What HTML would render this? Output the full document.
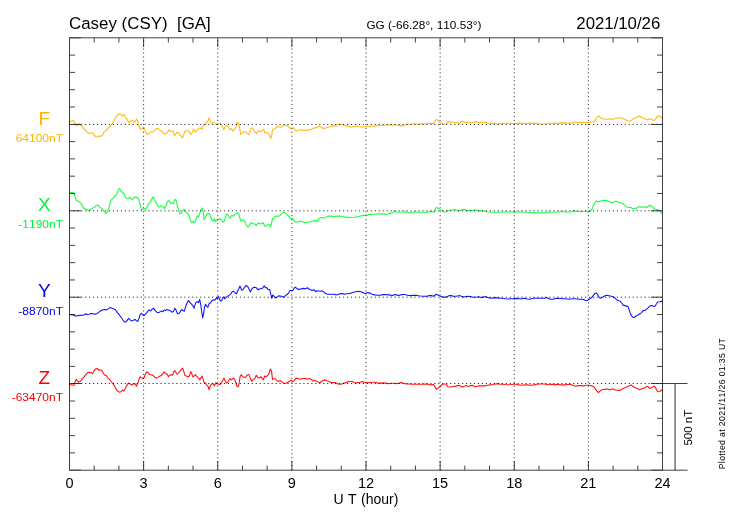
<!DOCTYPE html>
<html lang="en"><head><meta charset="utf-8"><title>Casey (CSY) [GA] 2021/10/26</title>
<style>html,body{margin:0;padding:0;background:#fff}body{width:730px;height:520px;overflow:hidden}svg{display:block}text{font-family:"Liberation Sans",Arial,Helvetica,sans-serif;font-kerning:none}</style></head><body>
<svg width="730" height="520" viewBox="0 0 730 520">
<rect width="730" height="520" fill="#fff"/>
<polyline points="69.5,122.2 71.2,121.2 73.2,120.5 74.6,121.8 76.0,125.9 77.3,124.9 79.4,123.7 81.2,125.3 83.5,128.4 86.2,131.4 88.3,133.4 90.3,133.3 92.4,132.5 93.8,134.1 95.4,136.6 97.2,137.3 99.2,135.9 100.9,136.3 102.7,135.2 104.0,132.2 106.1,130.4 108.2,128.1 110.2,126.3 112.3,123.6 114.0,120.8 115.7,117.4 117.7,114.9 119.5,113.7 121.2,114.4 122.3,115.8 124.2,114.4 125.3,116.7 127.3,120.1 128.7,122.5 130.1,121.5 131.4,120.1 133.1,120.8 134.9,122.2 136.5,119.0 137.6,120.8 139.0,125.6 140.3,129.7 142.0,128.4 143.8,127.3 145.1,130.4 146.9,134.5 148.6,133.6 150.6,131.8 152.7,132.2 154.7,130.1 156.8,128.4 158.8,129.0 160.0,130.4 161.6,131.1 164.1,134.1 165.8,133.2 167.1,132.7 168.9,129.7 170.7,131.8 173.0,130.8 174.4,135.9 175.8,133.8 177.4,131.8 179.2,133.8 180.8,135.5 182.3,137.9 183.6,135.2 184.7,131.8 186.3,130.8 188.1,130.7 189.4,131.5 190.7,134.5 192.2,132.5 193.3,129.4 194.2,130.0 195.3,132.1 197.0,130.4 199.0,128.4 200.0,127.7 201.1,128.6 202.1,129.4 203.6,124.9 204.5,124.0 205.5,124.5 206.6,122.2 207.9,121.2 208.9,117.8 210.0,119.9 211.0,122.6 212.1,123.3 214.1,122.5 215.5,124.2 217.3,124.0 218.9,123.7 220.3,123.2 221.9,125.6 223.7,129.7 225.1,127.0 226.8,125.3 228.2,126.7 229.9,129.7 231.2,128.6 233.3,131.1 234.7,129.0 236.0,127.0 237.0,122.9 238.4,122.6 239.4,126.3 240.6,134.1 241.9,133.6 243.6,131.5 245.6,131.8 247.0,133.2 248.8,134.9 250.1,131.1 251.1,128.4 252.2,127.7 253.4,129.7 255.0,131.8 256.4,133.8 257.7,131.1 259.1,130.8 260.5,131.8 262.1,130.8 263.6,129.4 264.9,132.7 266.6,132.2 268.3,133.6 269.4,134.5 270.3,138.2 271.4,137.3 272.5,129.4 273.9,129.0 275.3,128.4 276.9,127.0 278.3,126.3 280.3,127.3 281.7,127.0 283.8,125.2 285.8,125.3 287.9,126.3 289.9,127.7 291.3,128.6 293.4,127.7 294.7,129.4 296.1,131.1 298.1,130.4 300.2,129.7 302.3,130.1 305.0,130.4 307.1,130.0 309.1,130.1 311.2,129.3 313.2,128.1 315.3,128.1 317.3,127.0 319.4,126.3 321.4,127.3 323.5,128.4 325.6,128.1 327.6,127.3 330.3,126.7 333.1,125.9 335.8,125.9 337.9,124.7 339.9,124.2 342.0,124.5 344.0,125.3 346.8,125.9 349.5,126.7 350.0,127.0 352.7,127.0 355.5,126.3 358.2,126.3 361.0,127.0 362.3,127.3 364.4,126.6 366.4,126.3 370.6,126.3 374.7,126.3 377.4,125.6 380.1,125.2 384.2,125.3 388.4,124.7 391.1,124.9 393.1,125.3 395.2,124.7 397.9,125.3 400.7,125.9 404.1,125.6 406.2,124.5 410.3,124.2 413.7,123.7 417.1,124.0 419.9,124.2 422.6,123.7 426.7,124.0 430.1,123.3 433.6,123.6 434.9,121.2 436.3,119.5 438.4,120.8 440.4,122.5 442.5,123.8 444.9,124.1 446.6,123.6 448.4,121.5 450.5,121.9 453.2,122.2 456.0,122.5 458.0,122.9 458.7,123.8 460.1,122.9 461.7,121.5 463.5,121.8 464.9,122.6 466.9,122.3 469.0,122.2 471.0,122.5 473.1,122.5 475.1,121.4 476.8,121.8 478.6,122.6 481.3,122.3 484.0,122.3 486.1,122.6 488.8,123.3 491.6,123.0 494.3,123.6 497.1,124.2 499.8,123.6 502.5,123.6 505.3,123.3 508.0,123.0 510.8,123.3 513.5,123.6 516.2,123.6 519.7,122.9 522.4,123.2 525.1,123.6 527.9,123.4 530.6,122.9 533.4,123.4 536.1,123.4 538.8,124.0 540.0,124.0 545.5,124.0 548.2,123.3 552.3,123.3 555.8,122.9 557.8,123.6 560.5,122.9 564.0,122.6 567.4,123.2 570.8,123.4 573.6,122.2 575.9,121.8 578.4,122.5 582.5,122.3 586.6,122.6 590.7,122.3 593.4,121.8 594.8,120.8 596.2,118.5 597.5,116.7 598.9,116.0 600.3,117.7 602.3,118.8 605.1,119.0 607.8,119.5 609.9,118.8 612.6,119.5 615.3,118.5 618.1,117.8 620.8,117.7 622.9,118.8 625.6,119.9 628.4,121.0 630.4,121.0 632.0,120.1 633.4,118.5 635.2,118.1 637.3,117.1 639.7,116.0 641.8,117.8 643.8,118.2 645.9,119.2 647.5,120.1 649.0,119.0 650.4,118.8 652.0,119.9 654.1,120.4 655.5,119.5 656.9,116.7 658.2,115.8 659.6,116.0 661.0,117.4 662.6,117.8" fill="none" stroke="#ffb400" stroke-width="1.1" stroke-linejoin="round" opacity="0.92"/>
<polyline points="69.5,192.8 71.2,192.4 72.8,192.4 74.2,193.5 75.3,197.6 76.2,200.3 77.6,201.3 79.1,201.3 80.8,203.1 82.4,206.2 84.2,208.6 85.8,209.0 87.6,209.9 89.4,210.6 91.0,209.2 92.7,207.9 94.5,207.3 95.8,205.8 97.2,205.1 98.6,205.8 100.3,207.6 102.0,208.6 103.4,210.6 104.7,212.0 105.8,213.4 107.2,212.3 108.6,209.2 109.5,205.1 110.6,201.0 111.6,199.7 113.2,198.3 114.6,196.2 116.0,195.3 117.0,193.5 118.2,190.8 119.4,188.4 120.5,190.1 121.8,192.1 123.2,192.8 124.3,194.2 125.3,196.9 126.6,198.3 128.3,198.6 130.1,197.3 131.2,198.6 132.1,199.9 133.5,198.3 134.6,196.9 136.0,197.6 137.3,197.3 138.7,199.4 139.7,202.4 140.6,206.8 141.7,209.9 143.1,209.2 144.4,208.6 145.8,209.0 147.2,206.5 148.8,203.5 150.2,202.4 151.6,199.4 152.9,196.9 154.3,199.0 155.7,201.7 157.1,204.4 158.2,206.5 159.8,206.9 161.4,205.8 162.7,206.2 164.4,208.6 165.8,205.8 167.1,202.4 168.5,200.3 169.6,201.7 170.7,203.8 172.1,202.8 173.4,203.4 174.4,200.6 175.3,199.4 176.4,201.0 177.4,205.8 178.5,209.9 179.9,213.6 181.2,213.1 182.6,211.3 184.0,209.2 185.3,211.3 187.0,213.1 188.4,214.7 189.4,216.8 190.4,220.2 191.8,222.7 192.9,221.3 194.2,222.9 195.3,221.6 196.3,218.2 197.3,215.8 198.4,216.8 199.7,213.4 200.7,210.3 202.2,207.9 203.2,212.0 204.1,219.5 205.2,217.5 206.6,214.7 208.2,213.4 209.6,214.0 210.7,217.5 212.1,220.2 213.4,220.9 214.5,219.1 215.5,221.6 216.8,219.9 218.2,219.5 220.0,218.6 221.6,219.9 223.3,222.3 224.4,220.9 225.5,216.8 226.8,214.0 228.1,215.0 229.2,216.8 230.1,218.2 231.5,215.4 232.9,216.1 234.7,214.7 236.4,213.4 238.1,212.7 239.2,215.4 240.6,220.9 241.9,220.2 243.3,219.9 244.7,221.6 246.0,224.3 247.4,226.8 248.8,226.4 250.1,223.6 251.5,222.3 252.9,223.6 254.5,224.0 255.0,224.0 256.4,225.7 258.0,222.9 259.8,223.9 261.6,223.6 263.2,222.7 264.6,226.0 266.2,226.0 268.0,224.0 269.4,224.6 270.5,226.8 271.4,224.3 272.4,218.6 273.5,218.8 274.9,216.8 276.9,216.1 279.0,216.1 280.3,215.4 281.7,213.4 283.5,212.3 285.1,213.1 286.8,214.4 288.6,216.1 290.2,218.2 291.6,219.1 293.1,218.6 294.4,220.9 295.7,222.5 297.5,221.8 299.1,221.6 300.9,220.9 302.7,221.6 304.3,222.7 306.4,222.3 308.4,222.3 310.5,221.8 312.5,220.9 314.6,220.9 316.6,220.6 317.7,221.3 319.0,218.6 320.5,217.5 322.1,217.5 323.8,218.2 325.6,217.2 327.6,216.4 329.7,216.1 331.7,216.1 333.8,216.8 335.8,216.2 337.9,216.1 339.9,216.1 342.0,216.4 344.0,217.2 346.1,216.8 348.1,217.7 349.9,217.5 354.1,217.2 358.2,216.5 362.3,215.6 366.4,215.1 370.6,214.4 374.7,214.2 378.8,213.8 382.9,213.9 386.3,214.4 389.0,213.4 391.8,213.1 393.8,211.7 395.2,210.9 396.6,212.0 399.3,212.3 402.1,212.0 405.5,211.7 407.5,212.3 410.3,212.7 413.0,212.3 415.1,211.7 417.1,212.3 419.9,212.3 424.0,212.3 428.1,212.3 430.8,211.3 432.9,211.7 434.2,212.3 435.2,209.2 436.3,207.5 437.9,208.3 439.7,209.2 441.8,210.6 443.8,211.7 444.9,212.1 446.4,211.7 447.7,210.3 450.5,210.3 453.2,209.7 456.0,209.7 458.7,211.0 460.8,210.3 462.1,209.5 464.9,209.5 466.9,210.9 469.7,210.3 472.4,210.6 475.1,209.7 477.9,210.6 480.6,210.9 484.0,210.9 486.8,211.7 490.2,212.0 494.3,212.3 498.4,212.3 502.5,212.0 506.6,212.0 510.8,212.0 514.9,212.0 519.0,212.0 523.1,212.0 527.2,212.3 531.3,212.7 535.4,212.9 539.5,212.7 540.0,212.8 544.1,212.7 548.2,212.0 552.3,212.3 556.4,212.0 560.5,211.7 564.7,211.7 567.4,212.3 570.1,212.0 573.6,210.9 577.0,211.3 581.1,211.7 585.2,211.3 588.6,211.3 590.7,210.9 592.0,209.2 593.4,205.8 594.8,202.8 596.2,201.0 598.2,201.7 600.3,201.3 602.3,200.5 604.4,200.2 606.4,200.5 608.5,201.3 610.5,202.1 612.6,203.1 614.2,201.7 616.0,201.3 618.1,202.1 620.8,202.7 622.9,203.8 624.9,205.4 627.0,207.2 629.0,207.5 630.4,207.2 632.5,208.6 634.5,208.3 636.6,208.2 638.0,207.2 639.7,206.5 641.1,207.2 643.1,207.2 644.9,206.8 646.6,207.5 648.6,205.8 650.4,205.4 652.0,206.2 653.7,208.2 655.5,209.2 657.3,209.5 658.9,210.2 660.3,211.7 661.6,213.1 662.6,214.0" fill="none" stroke="#00ff33" stroke-width="1.1" stroke-linejoin="round" opacity="0.92"/>
<polyline points="69.5,314.7 71.2,314.5 73.2,315.0 75.3,316.1 77.3,315.7 80.1,315.4 82.8,315.1 84.5,314.7 85.8,313.8 87.2,314.6 89.0,314.3 91.0,313.6 93.1,313.8 95.1,314.1 96.8,313.8 98.6,312.4 100.6,310.9 102.7,309.7 104.7,309.5 106.8,309.9 108.6,308.6 110.2,307.5 112.3,308.3 114.0,308.9 115.7,310.2 117.3,312.4 119.1,314.7 121.2,317.5 122.8,319.8 124.6,322.0 126.2,321.6 127.6,319.8 128.7,318.4 130.1,319.8 131.4,320.9 133.5,320.2 135.1,319.3 136.5,320.9 137.9,321.2 139.0,318.4 140.1,314.7 141.3,313.4 142.7,314.7 144.2,315.4 145.8,313.8 147.5,311.6 149.2,309.9 150.6,311.0 152.0,309.3 153.6,308.3 155.0,310.2 156.5,312.0 158.2,312.7 159.8,312.0 161.6,310.9 163.0,311.6 164.4,309.9 165.5,310.6 167.1,309.5 168.9,310.2 170.7,310.9 172.1,312.3 173.4,311.6 174.8,308.3 176.0,309.9 177.4,313.8 178.8,313.8 180.3,311.6 181.6,309.5 182.9,310.6 184.2,311.3 185.3,307.9 186.7,303.8 188.4,300.4 189.9,302.4 191.5,304.2 192.9,305.8 194.0,308.3 194.9,305.1 195.9,302.4 197.3,301.7 198.6,302.7 199.7,299.4 200.7,304.5 201.8,312.0 202.7,317.9 203.6,314.1 204.5,307.2 205.6,304.2 206.8,306.5 207.9,307.2 209.0,303.8 210.4,302.8 211.8,301.0 213.2,299.7 214.8,300.1 216.2,298.3 217.3,298.7 218.2,296.2 219.2,298.3 220.3,301.0 221.6,300.8 222.7,297.9 223.7,296.9 224.7,298.7 225.8,297.9 227.4,296.2 229.2,295.1 230.6,294.2 231.9,291.9 233.3,291.2 234.7,292.4 236.3,293.8 237.7,291.0 238.8,288.7 239.9,286.0 240.8,288.0 241.8,290.4 243.2,289.4 244.5,287.3 246.0,285.6 247.7,286.4 249.0,289.1 250.4,291.9 251.8,289.1 253.2,287.6 254.8,287.3 256.4,287.8 258.0,289.8 259.8,288.7 261.6,288.7 262.9,287.8 264.2,285.7 265.3,287.8 266.6,287.6 268.0,289.4 269.8,289.8 270.8,294.2 271.7,298.3 272.8,294.9 273.9,296.2 275.3,298.0 276.9,297.2 278.6,295.8 280.3,296.0 282.0,296.5 283.8,297.2 285.4,295.6 287.2,294.5 288.8,292.8 290.2,290.5 291.7,290.5 293.1,290.1 294.3,288.0 295.4,287.1 296.5,288.3 297.9,289.4 299.5,289.1 301.6,288.9 303.6,288.4 305.7,288.7 307.3,287.8 309.1,289.0 310.9,290.1 312.5,290.4 314.2,289.8 315.6,291.7 316.9,290.8 318.7,291.0 320.5,291.2 322.1,290.8 323.8,292.1 325.6,293.5 327.3,294.2 329.7,294.2 331.7,294.3 333.8,294.3 336.5,294.9 338.6,294.2 340.6,293.6 342.7,293.6 344.7,294.2 346.8,293.8 348.8,293.5 349.9,293.5 352.7,292.6 355.5,291.7 358.2,291.2 361.0,291.7 363.7,293.1 365.8,293.5 367.8,292.6 369.9,293.1 371.9,294.2 374.7,294.9 377.4,295.3 380.1,295.3 382.9,294.6 385.6,294.5 388.4,294.9 390.4,294.9 391.8,295.7 393.8,294.9 395.2,294.5 397.3,295.1 398.6,295.6 400.7,294.9 402.7,294.5 404.8,294.5 407.5,295.3 410.3,295.6 413.0,295.4 415.8,295.3 418.5,295.7 421.2,296.0 424.0,296.2 426.7,296.2 429.4,295.6 431.5,295.6 433.6,296.2 434.9,295.3 436.3,294.2 438.4,295.3 440.4,296.2 442.5,297.1 444.9,297.1 447.1,296.9 449.1,295.6 451.2,295.6 453.2,296.2 456.0,296.2 458.7,295.8 460.1,295.6 462.1,296.9 464.9,296.7 467.6,296.2 470.3,296.5 473.1,297.2 475.8,297.2 478.6,296.7 481.3,297.6 484.0,296.9 486.1,296.7 488.8,297.9 491.6,298.3 494.3,297.6 497.1,297.9 499.8,298.3 502.5,298.3 505.3,298.7 508.0,299.0 510.8,298.7 513.5,298.7 516.2,298.4 519.0,298.7 521.7,298.7 524.5,298.3 527.2,299.0 529.9,299.3 532.7,298.3 535.4,298.3 539.5,298.3 540.0,298.3 544.1,298.2 546.2,297.6 548.2,298.3 550.3,299.3 553.0,299.3 555.8,298.4 558.5,298.2 561.9,298.7 565.3,298.7 568.8,299.3 572.2,298.7 575.6,298.7 579.0,299.3 582.5,299.3 584.5,299.9 586.6,300.8 588.2,299.9 590.0,298.7 592.0,297.3 593.7,294.9 595.1,293.2 596.4,293.0 597.8,294.9 599.2,297.3 600.3,298.3 601.9,297.6 603.7,296.5 605.5,295.6 607.1,295.3 609.2,295.8 611.2,296.2 613.3,296.7 615.3,298.3 617.0,299.9 618.8,300.8 620.1,301.0 621.5,302.8 623.1,305.1 624.9,305.6 626.6,306.1 628.0,306.5 629.0,309.3 630.1,312.7 631.4,315.7 632.7,317.1 634.2,317.5 635.9,316.1 638.0,315.0 640.0,313.8 641.8,312.3 643.1,310.6 645.2,310.2 647.3,308.6 649.0,306.9 650.7,305.6 652.3,305.6 653.7,306.5 654.8,306.5 656.2,304.2 657.8,302.0 659.6,301.7 661.0,301.4 662.6,301.0" fill="none" stroke="#0000ff" stroke-width="1.1" stroke-linejoin="round" opacity="0.92"/>
<polyline points="69.5,384.0 71.2,384.7 72.8,385.3 74.2,384.9 75.3,381.2 76.2,379.4 77.6,381.2 79.1,382.2 80.8,380.8 82.4,378.4 84.2,376.7 85.8,374.7 87.6,372.6 89.4,372.2 91.0,372.6 92.8,373.6 94.2,370.6 95.8,368.8 97.2,368.5 98.8,370.1 100.3,369.9 102.0,370.6 103.4,373.3 104.7,375.1 106.1,375.3 107.7,377.8 109.5,379.4 111.2,381.8 113.0,383.6 114.3,385.6 115.7,388.4 117.3,390.7 119.1,392.2 120.9,391.8 122.5,390.1 123.9,391.1 125.3,388.4 126.6,385.6 128.3,383.1 130.1,384.0 131.7,384.9 133.5,384.0 135.1,383.6 136.5,386.3 137.9,382.9 139.0,379.4 140.1,376.7 141.4,377.8 142.8,378.5 144.0,378.1 145.1,374.7 146.5,371.9 147.9,372.3 149.2,374.2 150.9,374.7 152.7,375.1 154.7,377.0 156.5,378.1 158.2,377.1 159.8,376.2 161.4,375.3 162.7,373.6 164.1,371.9 165.5,373.6 167.1,374.0 168.5,376.7 169.9,375.1 171.2,374.7 172.7,375.1 173.7,371.9 174.7,370.6 175.8,372.2 177.1,374.2 178.8,372.6 180.3,370.8 181.5,369.2 182.6,368.1 183.7,371.2 184.9,375.3 186.3,376.0 187.8,376.7 189.2,376.4 190.1,373.3 190.8,371.6 191.9,374.0 192.9,377.1 194.2,375.8 195.3,374.7 196.7,376.4 198.4,377.8 199.7,379.9 200.8,378.1 202.1,376.0 203.2,379.4 204.1,382.6 205.5,382.9 206.8,385.2 207.9,385.9 209.0,389.7 210.3,385.9 211.4,384.2 212.5,383.6 213.7,384.5 214.5,385.9 215.8,382.6 216.8,383.6 218.2,384.0 219.9,384.5 221.4,382.9 222.7,380.4 224.0,378.1 225.1,380.8 226.4,382.9 227.8,382.2 228.9,380.1 230.1,378.5 231.2,379.9 232.3,379.0 233.7,378.1 235.1,380.4 236.0,382.9 237.0,386.3 238.1,386.7 239.2,382.9 240.1,376.7 241.2,374.7 242.5,376.3 243.8,377.4 245.6,377.1 247.0,375.3 248.4,374.4 249.4,375.3 250.4,378.8 251.8,381.5 253.2,379.4 254.5,378.5 255.0,378.1 256.4,375.3 257.7,377.4 259.1,378.1 260.8,376.7 262.1,378.1 263.5,379.9 264.6,376.0 266.0,376.7 267.3,375.8 268.7,374.4 269.7,370.6 270.8,369.2 271.7,372.6 272.5,379.4 273.9,378.8 275.3,378.8 276.6,380.4 278.3,381.5 280.3,380.4 282.0,381.8 283.8,383.3 285.8,383.3 287.9,382.2 289.5,381.2 290.9,380.1 292.0,380.8 293.4,381.5 294.7,379.9 296.1,378.1 297.7,378.4 299.5,379.2 301.6,378.8 303.6,378.5 305.7,378.4 307.3,379.2 309.1,378.5 311.2,379.2 313.2,381.1 314.9,380.1 316.4,381.5 318.0,381.9 319.7,382.9 321.4,381.5 323.1,380.4 324.9,379.9 326.9,380.8 329.0,381.5 331.0,382.5 333.1,382.5 335.1,382.6 337.2,383.6 339.2,384.2 341.3,384.2 343.4,383.3 345.4,382.9 347.5,381.9 349.9,381.5 352.1,381.5 354.1,382.5 356.2,382.9 358.2,382.5 360.3,382.2 362.3,381.5 364.4,382.2 366.4,382.9 369.2,382.5 371.9,382.2 374.7,382.2 377.4,382.9 380.1,383.1 382.9,382.9 385.6,383.1 388.4,383.8 391.1,383.3 393.8,383.3 396.6,383.6 399.3,383.1 401.4,382.6 403.4,383.3 406.2,384.0 408.9,384.0 411.6,384.2 414.4,384.2 417.1,384.2 419.9,384.2 422.6,384.2 425.3,384.0 428.1,384.2 430.8,384.9 433.6,384.5 434.9,386.7 436.3,389.3 438.4,387.9 440.4,386.3 442.1,384.7 443.8,384.0 444.9,384.0 446.4,384.2 447.7,386.7 449.8,387.0 451.9,386.7 454.6,386.4 456.6,385.9 458.7,385.3 460.8,386.0 462.4,387.3 464.2,386.3 466.2,385.6 468.3,386.4 470.3,385.6 472.4,385.3 473.8,385.9 475.1,387.0 477.2,386.3 479.2,385.9 482.0,385.9 484.7,385.9 487.5,385.3 490.2,384.9 492.9,384.5 495.7,384.0 497.7,383.6 499.8,384.2 502.5,384.2 505.3,384.5 508.0,384.7 510.8,384.5 513.5,384.2 516.2,384.2 519.0,384.9 521.7,385.2 524.5,384.7 527.2,384.9 530.6,385.3 534.0,384.9 536.8,384.2 539.5,384.0 540.0,384.0 544.1,384.0 548.2,384.7 552.3,384.2 555.1,384.9 557.8,384.2 560.5,384.9 564.7,384.9 567.4,384.5 570.1,384.2 572.9,385.3 575.6,386.3 578.4,385.6 581.1,385.6 583.8,385.9 586.6,385.2 589.3,385.3 592.0,385.9 594.1,387.0 595.5,389.0 596.9,391.1 598.5,392.5 599.9,391.1 601.6,389.7 604.4,389.4 607.1,389.0 609.9,389.7 612.6,388.8 615.3,390.0 618.1,390.4 620.8,390.1 622.9,388.4 624.9,387.7 627.0,386.7 629.0,385.9 631.1,384.9 632.9,386.3 635.2,387.7 637.3,388.6 639.7,389.7 641.8,388.8 643.6,388.1 645.2,387.7 646.6,386.3 648.0,386.7 649.6,388.4 651.4,387.7 653.0,386.6 654.5,386.3 655.8,388.1 656.9,390.7 658.2,391.8 659.9,391.5 661.2,390.4 662.6,390.1" fill="none" stroke="#ff0000" stroke-width="1.1" stroke-linejoin="round" opacity="0.92"/>
<g stroke="#000" stroke-width="1" fill="none">
<line x1="143.62" y1="470.2" x2="143.62" y2="37.8" stroke-dasharray="1.15 2.818" opacity="0.78"/>
<line x1="217.75" y1="470.2" x2="217.75" y2="37.8" stroke-dasharray="1.15 2.818" opacity="0.78"/>
<line x1="291.88" y1="470.2" x2="291.88" y2="37.8" stroke-dasharray="1.15 2.818" opacity="0.78"/>
<line x1="366.00" y1="470.2" x2="366.00" y2="37.8" stroke-dasharray="1.15 2.818" opacity="0.78"/>
<line x1="440.12" y1="470.2" x2="440.12" y2="37.8" stroke-dasharray="1.15 2.818" opacity="0.78"/>
<line x1="514.25" y1="470.2" x2="514.25" y2="37.8" stroke-dasharray="1.15 2.818" opacity="0.78"/>
<line x1="588.38" y1="470.2" x2="588.38" y2="37.8" stroke-dasharray="1.15 2.818" opacity="0.78"/>
<line x1="69.2" y1="124.45" x2="662.5" y2="124.45" stroke-dasharray="1.2 2.768" opacity="0.8"/>
<line x1="69.2" y1="210.80" x2="662.5" y2="210.80" stroke-dasharray="1.2 2.768" opacity="0.8"/>
<line x1="69.2" y1="297.20" x2="662.5" y2="297.20" stroke-dasharray="1.2 2.768" opacity="0.8"/>
<line x1="69.2" y1="383.50" x2="662.5" y2="383.50" stroke-dasharray="1.2 2.768" opacity="0.8"/>
</g>
<g stroke="#000" stroke-width="1" fill="none" opacity="0.74">
<rect x="69.5" y="37.8" width="593.0" height="432.4"/>
<line x1="69.50" y1="37.8" x2="69.50" y2="47.0"/>
<line x1="69.50" y1="470.2" x2="69.50" y2="461.0"/>
<line x1="94.21" y1="37.8" x2="94.21" y2="42.5"/>
<line x1="94.21" y1="470.2" x2="94.21" y2="465.5"/>
<line x1="118.92" y1="37.8" x2="118.92" y2="42.5"/>
<line x1="118.92" y1="470.2" x2="118.92" y2="465.5"/>
<line x1="143.62" y1="37.8" x2="143.62" y2="47.0"/>
<line x1="143.62" y1="470.2" x2="143.62" y2="461.0"/>
<line x1="168.33" y1="37.8" x2="168.33" y2="42.5"/>
<line x1="168.33" y1="470.2" x2="168.33" y2="465.5"/>
<line x1="193.04" y1="37.8" x2="193.04" y2="42.5"/>
<line x1="193.04" y1="470.2" x2="193.04" y2="465.5"/>
<line x1="217.75" y1="37.8" x2="217.75" y2="47.0"/>
<line x1="217.75" y1="470.2" x2="217.75" y2="461.0"/>
<line x1="242.46" y1="37.8" x2="242.46" y2="42.5"/>
<line x1="242.46" y1="470.2" x2="242.46" y2="465.5"/>
<line x1="267.17" y1="37.8" x2="267.17" y2="42.5"/>
<line x1="267.17" y1="470.2" x2="267.17" y2="465.5"/>
<line x1="291.88" y1="37.8" x2="291.88" y2="47.0"/>
<line x1="291.88" y1="470.2" x2="291.88" y2="461.0"/>
<line x1="316.58" y1="37.8" x2="316.58" y2="42.5"/>
<line x1="316.58" y1="470.2" x2="316.58" y2="465.5"/>
<line x1="341.29" y1="37.8" x2="341.29" y2="42.5"/>
<line x1="341.29" y1="470.2" x2="341.29" y2="465.5"/>
<line x1="366.00" y1="37.8" x2="366.00" y2="47.0"/>
<line x1="366.00" y1="470.2" x2="366.00" y2="461.0"/>
<line x1="390.71" y1="37.8" x2="390.71" y2="42.5"/>
<line x1="390.71" y1="470.2" x2="390.71" y2="465.5"/>
<line x1="415.42" y1="37.8" x2="415.42" y2="42.5"/>
<line x1="415.42" y1="470.2" x2="415.42" y2="465.5"/>
<line x1="440.12" y1="37.8" x2="440.12" y2="47.0"/>
<line x1="440.12" y1="470.2" x2="440.12" y2="461.0"/>
<line x1="464.83" y1="37.8" x2="464.83" y2="42.5"/>
<line x1="464.83" y1="470.2" x2="464.83" y2="465.5"/>
<line x1="489.54" y1="37.8" x2="489.54" y2="42.5"/>
<line x1="489.54" y1="470.2" x2="489.54" y2="465.5"/>
<line x1="514.25" y1="37.8" x2="514.25" y2="47.0"/>
<line x1="514.25" y1="470.2" x2="514.25" y2="461.0"/>
<line x1="538.96" y1="37.8" x2="538.96" y2="42.5"/>
<line x1="538.96" y1="470.2" x2="538.96" y2="465.5"/>
<line x1="563.67" y1="37.8" x2="563.67" y2="42.5"/>
<line x1="563.67" y1="470.2" x2="563.67" y2="465.5"/>
<line x1="588.38" y1="37.8" x2="588.38" y2="47.0"/>
<line x1="588.38" y1="470.2" x2="588.38" y2="461.0"/>
<line x1="613.08" y1="37.8" x2="613.08" y2="42.5"/>
<line x1="613.08" y1="470.2" x2="613.08" y2="465.5"/>
<line x1="637.79" y1="37.8" x2="637.79" y2="42.5"/>
<line x1="637.79" y1="470.2" x2="637.79" y2="465.5"/>
<line x1="662.50" y1="37.8" x2="662.50" y2="47.0"/>
<line x1="662.50" y1="470.2" x2="662.50" y2="461.0"/>
<line x1="69.5" y1="37.80" x2="81.0" y2="37.80"/>
<line x1="662.5" y1="37.80" x2="651.0" y2="37.80"/>
<line x1="69.5" y1="55.10" x2="75.0" y2="55.10"/>
<line x1="662.5" y1="55.10" x2="657.0" y2="55.10"/>
<line x1="69.5" y1="72.39" x2="75.0" y2="72.39"/>
<line x1="662.5" y1="72.39" x2="657.0" y2="72.39"/>
<line x1="69.5" y1="89.69" x2="75.0" y2="89.69"/>
<line x1="662.5" y1="89.69" x2="657.0" y2="89.69"/>
<line x1="69.5" y1="106.98" x2="75.0" y2="106.98"/>
<line x1="662.5" y1="106.98" x2="657.0" y2="106.98"/>
<line x1="69.5" y1="124.45" x2="81.0" y2="124.45"/>
<line x1="662.5" y1="124.45" x2="651.0" y2="124.45"/>
<line x1="69.5" y1="141.58" x2="75.0" y2="141.58"/>
<line x1="662.5" y1="141.58" x2="657.0" y2="141.58"/>
<line x1="69.5" y1="158.87" x2="75.0" y2="158.87"/>
<line x1="662.5" y1="158.87" x2="657.0" y2="158.87"/>
<line x1="69.5" y1="176.17" x2="75.0" y2="176.17"/>
<line x1="662.5" y1="176.17" x2="657.0" y2="176.17"/>
<line x1="69.5" y1="193.46" x2="75.0" y2="193.46"/>
<line x1="662.5" y1="193.46" x2="657.0" y2="193.46"/>
<line x1="69.5" y1="210.80" x2="81.0" y2="210.80"/>
<line x1="662.5" y1="210.80" x2="651.0" y2="210.80"/>
<line x1="69.5" y1="228.06" x2="75.0" y2="228.06"/>
<line x1="662.5" y1="228.06" x2="657.0" y2="228.06"/>
<line x1="69.5" y1="245.35" x2="75.0" y2="245.35"/>
<line x1="662.5" y1="245.35" x2="657.0" y2="245.35"/>
<line x1="69.5" y1="262.65" x2="75.0" y2="262.65"/>
<line x1="662.5" y1="262.65" x2="657.0" y2="262.65"/>
<line x1="69.5" y1="279.94" x2="75.0" y2="279.94"/>
<line x1="662.5" y1="279.94" x2="657.0" y2="279.94"/>
<line x1="69.5" y1="297.20" x2="81.0" y2="297.20"/>
<line x1="662.5" y1="297.20" x2="651.0" y2="297.20"/>
<line x1="69.5" y1="314.54" x2="75.0" y2="314.54"/>
<line x1="662.5" y1="314.54" x2="657.0" y2="314.54"/>
<line x1="69.5" y1="331.83" x2="75.0" y2="331.83"/>
<line x1="662.5" y1="331.83" x2="657.0" y2="331.83"/>
<line x1="69.5" y1="349.13" x2="75.0" y2="349.13"/>
<line x1="662.5" y1="349.13" x2="657.0" y2="349.13"/>
<line x1="69.5" y1="366.42" x2="75.0" y2="366.42"/>
<line x1="662.5" y1="366.42" x2="657.0" y2="366.42"/>
<line x1="69.5" y1="383.50" x2="81.0" y2="383.50"/>
<line x1="662.5" y1="383.50" x2="651.0" y2="383.50"/>
<line x1="69.5" y1="401.02" x2="75.0" y2="401.02"/>
<line x1="662.5" y1="401.02" x2="657.0" y2="401.02"/>
<line x1="69.5" y1="418.31" x2="75.0" y2="418.31"/>
<line x1="662.5" y1="418.31" x2="657.0" y2="418.31"/>
<line x1="69.5" y1="435.61" x2="75.0" y2="435.61"/>
<line x1="662.5" y1="435.61" x2="657.0" y2="435.61"/>
<line x1="69.5" y1="452.90" x2="75.0" y2="452.90"/>
<line x1="662.5" y1="452.90" x2="657.0" y2="452.90"/>
<line x1="69.5" y1="470.20" x2="81.0" y2="470.20"/>
<line x1="662.5" y1="470.20" x2="651.0" y2="470.20"/>
</g>
<g stroke="#000" stroke-width="1" fill="none" opacity="0.75">
<line x1="662.5" y1="383.50" x2="687.5" y2="383.50"/>
<line x1="662.5" y1="470.2" x2="687.5" y2="470.2"/>
<line x1="675.1" y1="383.50" x2="675.1" y2="470.2" stroke-width="1.3" opacity="0.85"/>
</g>
<g fill="#000">
<text x="69" y="29" font-size="16.9" xml:space="preserve">Casey (CSY)  [GA]</text>
<text x="366.4" y="29" font-size="11.8">GG (-66.28°, 110.53°)</text>
<text x="660.3" y="29" font-size="16.8" text-anchor="end">2021/10/26</text>
<text x="69.50" y="488.3" font-size="14.5" text-anchor="middle">0</text>
<text x="143.62" y="488.3" font-size="14.5" text-anchor="middle">3</text>
<text x="217.75" y="488.3" font-size="14.5" text-anchor="middle">6</text>
<text x="291.88" y="488.3" font-size="14.5" text-anchor="middle">9</text>
<text x="366.00" y="488.3" font-size="14.5" text-anchor="middle">12</text>
<text x="440.12" y="488.3" font-size="14.5" text-anchor="middle">15</text>
<text x="514.25" y="488.3" font-size="14.5" text-anchor="middle">18</text>
<text x="588.38" y="488.3" font-size="14.5" text-anchor="middle">21</text>
<text x="662.50" y="488.3" font-size="14.5" text-anchor="middle">24</text>
<text x="366" y="504" font-size="14" word-spacing="0.5" text-anchor="middle">U T (hour)</text>
<text transform="translate(692.2,445.6) rotate(-90)" font-size="11.5">500 nT</text>
<text transform="translate(724.5,469.3) rotate(-90)" font-size="8.7" letter-spacing="0.36">Plotted at 2021/11/26 01:35 UT</text>
</g>
<g fill="#ffb400"><text x="44.3" y="124.5" font-size="19" text-anchor="middle">F</text>
<text transform="translate(63,142.0) scale(1.062,1)" font-size="11.3" text-anchor="end">64100nT</text></g>
<g fill="#00f530"><text x="44.3" y="210.8" font-size="19" text-anchor="middle">X</text>
<text transform="translate(63,227.9) scale(1.062,1)" font-size="11.3" text-anchor="end">-1190nT</text></g>
<g fill="#0000f0"><text x="44.3" y="297.2" font-size="19" text-anchor="middle">Y</text>
<text transform="translate(63,315.0) scale(1.062,1)" font-size="11.3" text-anchor="end">-8870nT</text></g>
<g fill="#f80000"><text x="44.3" y="383.5" font-size="19" text-anchor="middle">Z</text>
<text transform="translate(63,401.0) scale(1.062,1)" font-size="11.3" text-anchor="end">-63470nT</text></g>
</svg></body></html>
